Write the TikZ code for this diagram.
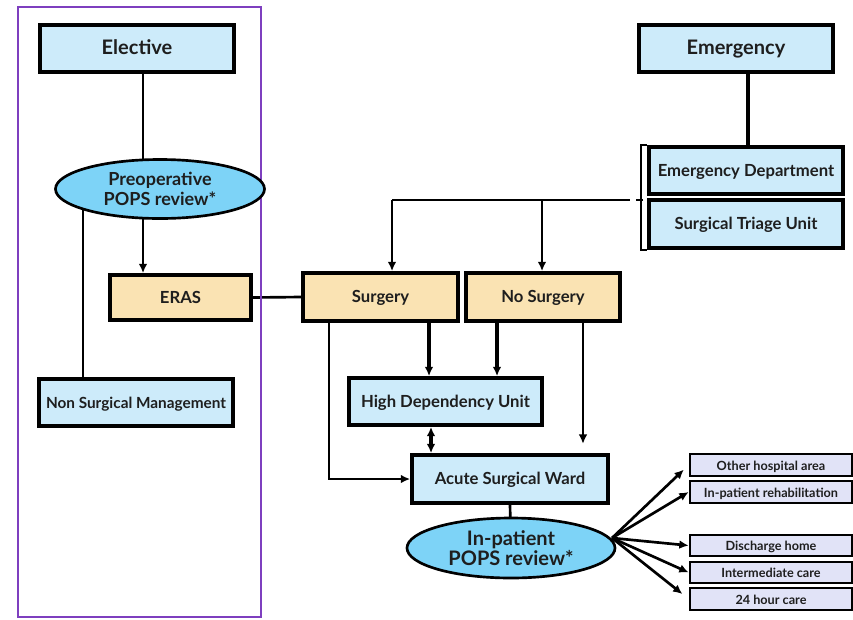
\documentclass[tikz,border=0pt]{standalone}
\usepackage{fontspec}
\setmainfont{Lato}
\usetikzlibrary{arrows.meta,shapes.geometric}
\definecolor{boxblue}{HTML}{CDEBFA}
\definecolor{ellblue}{HTML}{7DD3F7}
\definecolor{tan}{HTML}{FAE3B3}
\definecolor{lav}{HTML}{E1E3F7}
\definecolor{frame}{HTML}{7E3FBF}
\definecolor{txt}{HTML}{1E1E1E}
\pgfdeclarelayer{bg}
\pgfsetlayers{bg,main}
\tikzset{
  box/.style={draw=black, line width=2.8pt, inner sep=0pt, text=txt, text height=0.86em, text depth=0pt, font=\bfseries\fontsize{12.5}{14}\selectfont},
  hdr/.style={box, fill=boxblue, minimum width=145.5pt, minimum height=35.25pt, font=\bfseries\fontsize{15}{16}\selectfont},
  bluebox/.style={box, fill=boxblue},
  tanbox/.style={box, fill=tan},
  outbox/.style={draw=black, line width=2pt, fill=lav, inner sep=0pt, minimum width=121.5pt, text=txt, text height=0.8em, text depth=0pt, font=\bfseries\fontsize{9.5}{11}\selectfont},
  ell/.style={ellipse, draw=black, line width=2pt, fill=ellblue, inner sep=0pt, align=center, text=txt},
  conn/.style={draw=black, line width=2pt},
  arr/.style={conn, -{Latex[length=7pt,width=6.5pt]}},
  dbl/.style={conn, {Latex[length=7pt,width=6.5pt]}-{Latex[length=7pt,width=6.5pt]}},
}
\begin{document}
\begin{tikzpicture}[x=0.75pt,y=-0.75pt]
\useasboundingbox (0,0) rectangle (853,619);
\node[draw=frame, line width=1.8pt, minimum width=182.25pt, minimum height=457.5pt, inner sep=0pt] (frm) at (139.5,312) {};
\node[hdr] (elective) at (137,48.5) {Elective};
\node[hdr] (emergency) at (736,48.5) {Emergency};
\node[ell, minimum width=156.75pt, minimum height=44.25pt, font=\bfseries\fontsize{13.5}{14.5}\selectfont] (pre) at (160,189) {Preoperative\\POPS review*};
\node[tanbox, minimum width=105.75pt, minimum height=33.75pt] (eras) at (180.5,297.5) {ERAS};
\node[bluebox, minimum width=145.5pt, minimum height=35.25pt, font=\bfseries\fontsize{11.5}{13}\selectfont] (nsm) at (136,402.5) {Non Surgical Management};
\node[tanbox, minimum width=116.25pt, minimum height=36pt] (surgery) at (380.5,297) {Surgery};
\node[tanbox, minimum width=115.5pt, minimum height=36pt] (nosurg) at (543,297) {No Surgery};
\node[bluebox, minimum width=144.75pt, minimum height=35.25pt] (hdu) at (445.5,401.5) {High Dependency Unit};
\node[bluebox, minimum width=147pt, minimum height=36pt] (asw) at (510,479) {Acute Surgical Ward};
\node[bluebox, minimum width=145.5pt, minimum height=35.25pt] (ed) at (746,170.5) {Emergency Department};
\node[bluebox, minimum width=145.5pt, minimum height=36pt] (stu) at (746,224) {Surgical Triage Unit};
\node[ell, minimum width=156pt, minimum height=45pt, font=\bfseries\fontsize{15}{15.5}\selectfont] (inpops) at (511,548) {In-patient\\POPS review*};
\node[outbox, minimum height=16.5pt] (oth) at (771,465) {Other hospital area};
\node[outbox, minimum height=16.5pt] (reh) at (771,492) {In-patient rehabilitation};
\node[outbox, minimum height=15.75pt] (dis) at (771,545.5) {Discharge home};
\node[outbox, minimum height=15.75pt] (int) at (771,572.5) {Intermediate care};
\node[outbox, minimum height=16.5pt] (h24) at (771,599) {24 hour care};
\coordinate (split) at (392,200);
\coordinate (split2) at (542,200);
\coordinate (hend) at (630,200);
\coordinate (tickA) at (636,200);
\coordinate (tickB) at (643,200);
\coordinate (fan) at (612,538);
\begin{pgfonlayer}{bg}
\draw[conn] (143,0 |- elective.south) -- (143,0 |- pre.center);
\draw[arr] (143,0 |- pre.center) -- (143,0 |- eras.north);
\draw[conn] (83,0 |- pre.center) -- (83,0 |- nsm.north);
\draw[conn] (eras.east) -- (surgery.west);
\draw[conn, line width=2.5pt] (748,0 |- emergency.south) -- (748,0 |- ed.north);
\draw[conn, line width=1.5pt] (ed.north west) -- ++(-6,0) |- (stu.south west);
\draw[conn] (split) -- (hend);
\draw[conn] (tickA) -- (tickB);
\draw[arr] (split) -- (split |- surgery.north);
\draw[arr] (split2) -- (split2 |- nosurg.north);
\draw[arr, line width=2.5pt] (429,0 |- surgery.south) -- (429,0 |- hdu.north);
\draw[arr, line width=2.5pt] (497,0 |- nosurg.south) -- (497,0 |- hdu.north);
\draw[arr, shorten >=7pt] (583,0 |- nosurg.south) -- (583,0 |- asw.north);
\draw[arr] (329,0 |- surgery.south) |- (asw.west);
\draw[dbl, line width=2.5pt] (431,0 |- hdu.south) -- (431,0 |- asw.north);
\draw[conn] (asw.south) -- (inpops.center);
\draw[arr, shorten >=5pt] (fan) -- (oth.west);
\draw[arr] (fan) -- (reh.west);
\draw[arr] (fan) -- (dis.west);
\draw[arr] (fan) -- (int.west);
\draw[arr, shorten >=6pt] (fan) -- (h24.west);
\end{pgfonlayer}
\end{tikzpicture}
\end{document}
